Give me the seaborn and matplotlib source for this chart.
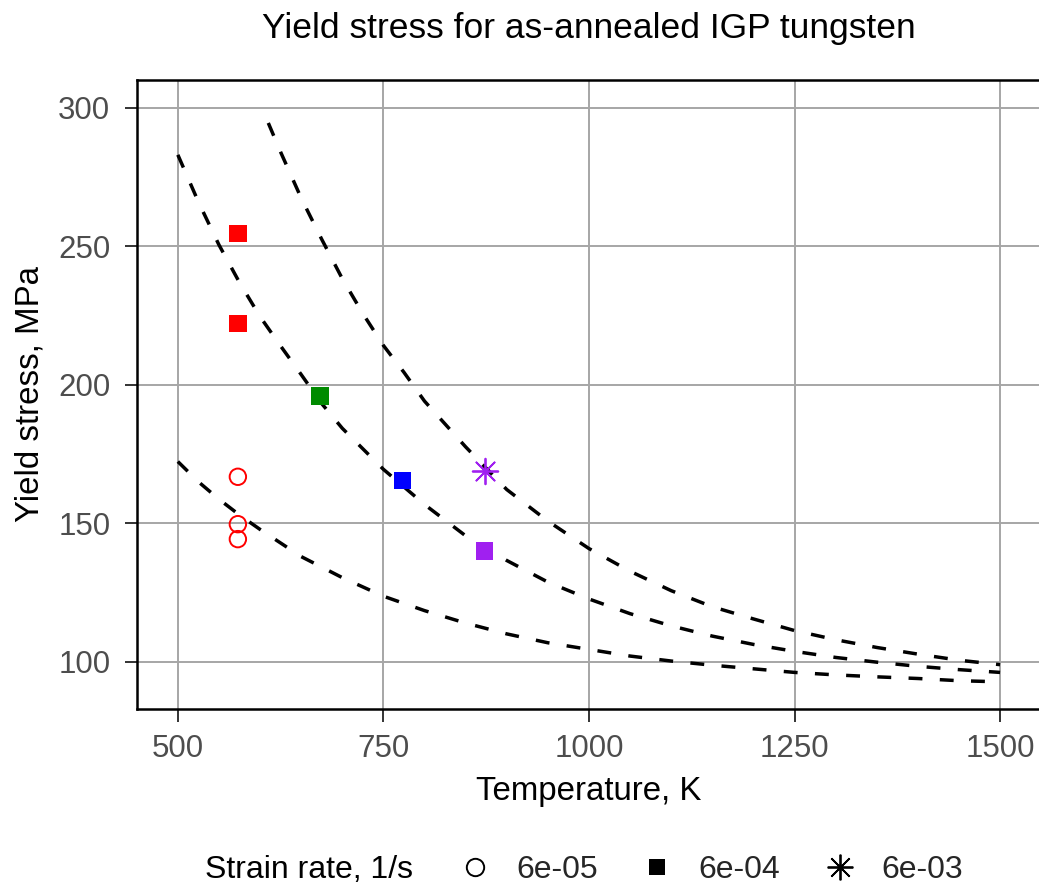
import matplotlib
matplotlib.use("Agg")
import matplotlib.pyplot as plt
from matplotlib.lines import Line2D
import seaborn as sns
import pandas as pd

# ---- data ----
point_temp = [573, 573, 573, 573, 573, 673, 773, 873, 873]
point_stress = [166.8, 149.7, 144.3, 254.6, 222.1, 195.9, 165.5, 140.0, 168.8]
point_rate = ["6e-05", "6e-05", "6e-05", "6e-04", "6e-04", "6e-04", "6e-04", "6e-04", "6e-03"]
temp_colors = {573: "#FF0000", 673: "#008B00", 773: "#0000FF", 873: "#A020F0"}

curve_T_6e5 = [500, 525, 550, 575, 600, 650, 700, 750, 800, 850, 900, 950, 1000, 1050,
               1100, 1150, 1200, 1250, 1300, 1350, 1400, 1450, 1500]
curve_S_6e5 = [172.3, 165.0, 158.7, 153.0, 147.8, 138.0, 130.4, 123.7, 118.5, 114.0, 110.1,
               106.9, 104.5, 102.1, 100.3, 98.8, 97.5, 96.2, 95.3, 94.6, 94.0, 93.2, 92.8]

curve_T_6e4 = [500, 525, 550, 575, 600, 625, 650, 675, 700, 750, 800, 850, 900, 950, 1000,
               1050, 1100, 1150, 1200, 1250, 1300, 1350, 1400, 1450, 1500]
curve_S_6e4 = [283.0, 266.0, 250.5, 236.9, 224.6, 214.0, 203.7, 193.2, 184.3, 169.5, 156.8,
               145.5, 136.6, 128.8, 122.7, 117.4, 113.0, 109.3, 106.3, 103.8, 101.6, 99.9,
               98.4, 97.2, 96.2]

curve_T_6e3 = [610, 625, 650, 675, 700, 725, 750, 775, 800, 850, 900, 950, 1000, 1050, 1100,
               1150, 1200, 1250, 1300, 1350, 1400, 1450, 1500]
curve_S_6e3 = [294.5, 284.0, 267.4, 252.5, 238.3, 225.7, 214.2, 204.5, 194.1, 177.6, 162.2,
               150.8, 140.9, 132.7, 125.7, 119.9, 115.5, 111.3, 108.0, 105.2, 102.8, 100.6, 99.0]

legend_labels = ["6e-05", "6e-04", "6e-03"]
x_ticks = [500, 750, 1000, 1250, 1500]
y_ticks = [100, 150, 200, 250, 300]

# ---- style ----
sns.set_theme(style="white")
plt.rcParams["font.family"] = ["Liberation Sans", "DejaVu Sans"]

DPI = 100
fig = plt.figure(figsize=(10.39, 8.89), dpi=DPI)
ax = fig.add_axes([0.1316, 0.2025, 0.8705, 0.7075])

dash = (0, (4.0, 5.0))
for T, S in [(curve_T_6e5, curve_S_6e5), (curve_T_6e4, curve_S_6e4), (curve_T_6e3, curve_S_6e3)]:
    sns.lineplot(x=T, y=S, ax=ax, color="black", linewidth=2.5, linestyle=dash,
                 estimator=None, sort=False, zorder=3)

df = pd.DataFrame({"T": point_temp, "S": point_stress, "rate": point_rate})

# open circles
d1 = df[df.rate == "6e-05"]
sns.scatterplot(data=d1, x="T", y="S", ax=ax, marker="o", s=140, color="red",
                linewidth=1.4, legend=False, zorder=4)
coll = ax.collections[-1]
coll.set_facecolor("none")
coll.set_edgecolor([temp_colors[t] for t in d1["T"]])

# filled squares
d2 = df[df.rate == "6e-04"]
sns.scatterplot(data=d2, x="T", y="S", ax=ax, hue="T", palette=temp_colors, marker="s",
                s=160, linewidth=0, legend=False, zorder=4)

# asterisk
d3 = df[df.rate == "6e-03"]
sns.scatterplot(data=d3, x="T", y="S", ax=ax, marker=(8, 2, 0), s=340, color="#A020F0",
                linewidth=1.3, legend=False, zorder=4)
coll = ax.collections[-1]
coll.set_edgecolor([temp_colors[t] for t in d3["T"]])

ax.set_xlim(450, 1550)
ax.set_ylim(83, 310)
ax.set_xticks(x_ticks)
ax.set_yticks(y_ticks)
ax.grid(True, color="#A6A6A6", linewidth=1.4)
ax.set_axisbelow(True)
for sp in ax.spines.values():
    sp.set_color("black")
    sp.set_linewidth(1.8)
ax.tick_params(axis="both", which="major", length=9, width=1.4, color="#333333",
               labelsize=22.5, labelcolor="#4D4D4D", bottom=True, left=True)
ax.tick_params(axis="x", pad=9)
ax.tick_params(axis="y", pad=10)

ax.set_xlabel("Temperature, K", fontsize=23.8, color="black", labelpad=9)
ax.set_ylabel("Yield stress, MPa", fontsize=23.8, color="black", labelpad=9)
ax.set_title("Yield stress for as-annealed IGP tungsten", fontsize=25.5, color="black", pad=30)

# legend at the bottom
fig.text(205 / 1039, 1 - 870 / 889, "Strain rate, 1/s", fontsize=23, color="black",
         ha="left", va="center")
handles = [
    Line2D([], [], linestyle="none", marker="o", markersize=12.5, markerfacecolor="none",
           markeredgecolor="black", markeredgewidth=1.4),
    Line2D([], [], linestyle="none", marker="s", markersize=12, markerfacecolor="black",
           markeredgewidth=0),
    Line2D([], [], linestyle="none", marker=(8, 2, 0), markersize=18.5, color="black",
           markeredgewidth=1.3),
]
fig.legend(handles, legend_labels, loc="center left",
           bbox_to_anchor=((475 - 16) / 1039, 1 - 870 / 889),
           ncol=3, frameon=False, fontsize=23, handlelength=1.0, handletextpad=0.8,
           columnspacing=1.35, borderpad=0, borderaxespad=0)

fig.savefig("out.png", dpi=DPI)
